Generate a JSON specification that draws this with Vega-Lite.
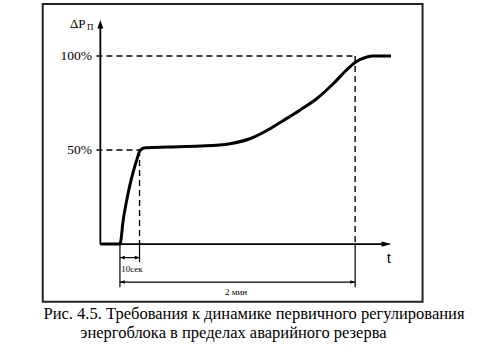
{
  "$schema": "https://vega.github.io/schema/vega-lite/v6.json",
  "width": 479,
  "height": 352,
  "padding": 0,
  "autosize": {"type": "none"},
  "background": "white",
  "config": {"view": {"stroke": null}, "font": "Liberation Serif"},
  "datasets": {
    "curve": [
      {"t": -10, "p": 0}, {"t": 0, "p": 0}, {"t": 1.7, "p": 13}, {"t": 3.4, "p": 23},
      {"t": 5.1, "p": 31.5}, {"t": 6.8, "p": 38.5}, {"t": 8.5, "p": 44.5}, {"t": 10, "p": 49.3},
      {"t": 11.5, "p": 50.8}, {"t": 13, "p": 51.2}, {"t": 24, "p": 51.6}, {"t": 40.8, "p": 52.1}, {"t": 56.1, "p": 53.4},
      {"t": 66.3, "p": 56.0}, {"t": 75, "p": 60.4}, {"t": 83.2, "p": 65.6}, {"t": 91.8, "p": 71.2},
      {"t": 100.5, "p": 77.4}, {"t": 108.7, "p": 85.1}, {"t": 115.8, "p": 92.8}, {"t": 120, "p": 96.6},
      {"t": 126, "p": 99.5}, {"t": 129, "p": 100}, {"t": 138.3, "p": 100}
    ],
    "frame": [{"t": -39.4, "t2": 154.4, "p": 127.7, "p2": -30.7}],
    "axes": [
      {"t": -10, "p": 0, "t2": -10, "p2": 116},
      {"t": -10, "p": 0, "t2": 134, "p2": 0}
    ],
    "ext": [
      {"t": 0, "p": 0, "t2": 0, "p2": -22.9},
      {"t": 10, "p": 0, "t2": 10, "p2": -9.6},
      {"t": 120, "p": 0, "t2": 120, "p2": -22.9},
      {"t": 0, "p": -7.2, "t2": 10, "p2": -7.2},
      {"t": 0, "p": -20.2, "t2": 120, "p2": -20.2}
    ],
    "dashed": [
      {"t": -12, "p": 100, "t2": 120, "p2": 100},
      {"t": -12, "p": 50, "t2": 10, "p2": 50},
      {"t": 10, "p": 50, "t2": 10, "p2": 0},
      {"t": 120, "p": 100, "t2": 120, "p2": 0}
    ],
    "arrowUp": [{"t": -10, "p": 119.1}],
    "arrowRight": [{"t": 138.6, "p": 0}],
    "smallLeft": [{"t": 0, "p": -7.2}, {"t": 0, "p": -20.2}],
    "smallRight": [{"t": 10, "p": -7.2}, {"t": 120, "p": -20.2}],
    "ticks": [{"t": -14.3, "p": 100, "label": "100%"}, {"t": -14.3, "p": 50, "label": "50%"}],
    "ylab": [{"t": -25.5, "p": 117, "label": "ΔP"}],
    "ysub": [{"t": -16.8, "p": 115.2, "label": "П"}],
    "xlab": [{"t": 137.2, "p": -7.4, "label": "t"}],
    "dims": [{"t": 6.1, "p": -13.3, "label": "10сек"}, {"t": 59.2, "p": -25.5, "label": "2 мин"}],
    "caption": [
      {"t": 68.4, "p": -37.2, "label": "Рис. 4.5. Требования к динамике первичного регулирования"},
      {"t": 57.9, "p": -47.3, "label": "энергоблока в пределах аварийного резерва"}
    ]
  },
  "encoding": {
    "x": {"field": "t", "type": "quantitative", "axis": null, "scale": {"domain": [-61.2, 183.2], "nice": false, "zero": false}},
    "y": {"field": "p", "type": "quantitative", "axis": null, "scale": {"domain": [-57.4, 129.8], "nice": false, "zero": false}}
  },
  "layer": [
    {"data": {"name": "frame"}, "mark": {"type": "rect", "fill": null, "fillOpacity": 0, "stroke": "#222", "strokeWidth": 2},
     "encoding": {"x2": {"field": "t2"}, "y2": {"field": "p2"}}},
    {"data": {"name": "dashed"}, "mark": {"type": "rule", "color": "black", "strokeWidth": 1.4, "strokeDash": [6, 4]},
     "encoding": {"x2": {"field": "t2"}, "y2": {"field": "p2"}}},
    {"data": {"name": "axes"}, "mark": {"type": "rule", "color": "black", "strokeWidth": 1.8},
     "encoding": {"x2": {"field": "t2"}, "y2": {"field": "p2"}}},
    {"data": {"name": "ext"}, "mark": {"type": "rule", "color": "black", "strokeWidth": 1.2},
     "encoding": {"x2": {"field": "t2"}, "y2": {"field": "p2"}}},
    {"data": {"name": "curve"}, "mark": {"type": "line", "color": "black", "strokeWidth": 3, "interpolate": "monotone"},
     "encoding": {}},
    {"data": {"name": "arrowUp"}, "mark": {"type": "point", "filled": true, "color": "black", "opacity": 1, "size": 16, "shape": "M0,0L1.5,4.2L-1.5,4.2Z"}},
    {"data": {"name": "arrowRight"}, "mark": {"type": "point", "filled": true, "color": "black", "opacity": 1, "size": 16, "shape": "M0,0L-5,-1.3L-5,1.3Z"}},
    {"data": {"name": "smallLeft"}, "mark": {"type": "point", "filled": true, "color": "black", "opacity": 1, "size": 16, "shape": "M0,0L2.4,-0.9L2.4,0.9Z"}},
    {"data": {"name": "smallRight"}, "mark": {"type": "point", "filled": true, "color": "black", "opacity": 1, "size": 16, "shape": "M0,0L-2.4,-0.9L-2.4,0.9Z"}},
    {"data": {"name": "ticks"}, "mark": {"type": "text", "align": "right", "baseline": "middle", "fontSize": 13.5, "color": "black"},
     "encoding": {"text": {"field": "label"}}},
    {"data": {"name": "ylab"}, "mark": {"type": "text", "align": "left", "baseline": "middle", "fontSize": 13, "color": "black"},
     "encoding": {"text": {"field": "label"}}},
    {"data": {"name": "ysub"}, "mark": {"type": "text", "align": "left", "baseline": "middle", "fontSize": 9, "color": "black"},
     "encoding": {"text": {"field": "label"}}},
    {"data": {"name": "xlab"}, "mark": {"type": "text", "align": "center", "baseline": "middle", "fontSize": 16, "color": "black"},
     "encoding": {"text": {"field": "label"}}},
    {"data": {"name": "dims"}, "mark": {"type": "text", "align": "center", "baseline": "middle", "fontSize": 9, "color": "black"},
     "encoding": {"text": {"field": "label"}}},
    {"data": {"name": "caption"}, "mark": {"type": "text", "align": "center", "baseline": "middle", "fontSize": 16.5, "color": "black"},
     "encoding": {"text": {"field": "label"}}}
  ]
}
